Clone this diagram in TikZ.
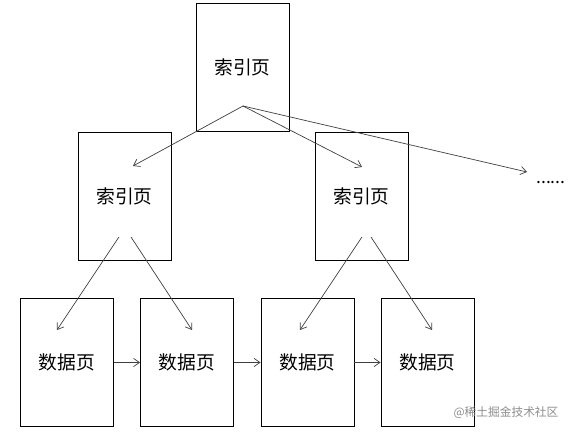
\documentclass[tikz,border=0pt]{standalone}
\usepackage{fontspec}
\setmainfont{Noto Sans CJK SC}
\usetikzlibrary{arrows.meta}

\tikzset{
    page/.style={draw, line width=0.8pt, minimum width=2.79cm, minimum height=3.84cm,
                 inner sep=0pt, font=\fontsize{16}{19}\selectfont},
    link/.style={-{Straight Barb[length=5pt,width=7pt]}, line width=0.6pt, black!75}
}

\begin{document}
\begin{tikzpicture}[x=0.03cm, y=0.03cm]

            \useasboundingbox (0,0) rectangle (574,433);

            \node[page] (root) at (242.5,366) {索引页};

            \node[page] (idxleft) at (124.5,236.5) {索引页};
            \node[page] (idxright) at (361.5,236.5) {索引页};

            \node[anchor=base west, inner sep=0pt, font=\fontsize{15}{18}\selectfont] (more) at (536,249.5) {......};

            \node[page] (data1) at (67,70.5) {数据页};
            \node[page] (data2) at (187,70.5) {数据页};
            \node[page] (data3) at (307.5,70.5) {数据页};
            \node[page] (data4) at (427.5,70.5) {数据页};

            \coordinate (rootout) at (243,327);
            \coordinate (leftin) at (133,267);
            \coordinate (rightin) at (362,266);
            \coordinate (morein) at (527,261);

            \coordinate (leftout1) at (119,196);
            \coordinate (leftout2) at (131,196);
            \coordinate (rightout1) at (362,196);
            \coordinate (rightout2) at (371,196);

            \coordinate (data1in) at (57,103);
            \coordinate (data2in) at (192,103);
            \coordinate (data3in) at (300,103);
            \coordinate (data4in) at (432,103);

            \draw[link] (rootout) -- (leftin);
            \draw[link] (rootout) -- (rightin);
            \draw[link] (rootout) -- (morein);

            \draw[link] (leftout1) -- (data1in);
            \draw[link] (leftout2) -- (data2in);
            \draw[link] (rightout1) -- (data3in);
            \draw[link] (rightout2) -- (data4in);

            \draw[link] (data1) -- (data2);
            \draw[link] (data2) -- (data3);
            \draw[link] (data3) -- (data4);

            \node[text=black!45, font=\fontsize{10}{12}\selectfont] (mark) at (506,20) {@稀土掘金技术社区};

\end{tikzpicture}
\end{document}
